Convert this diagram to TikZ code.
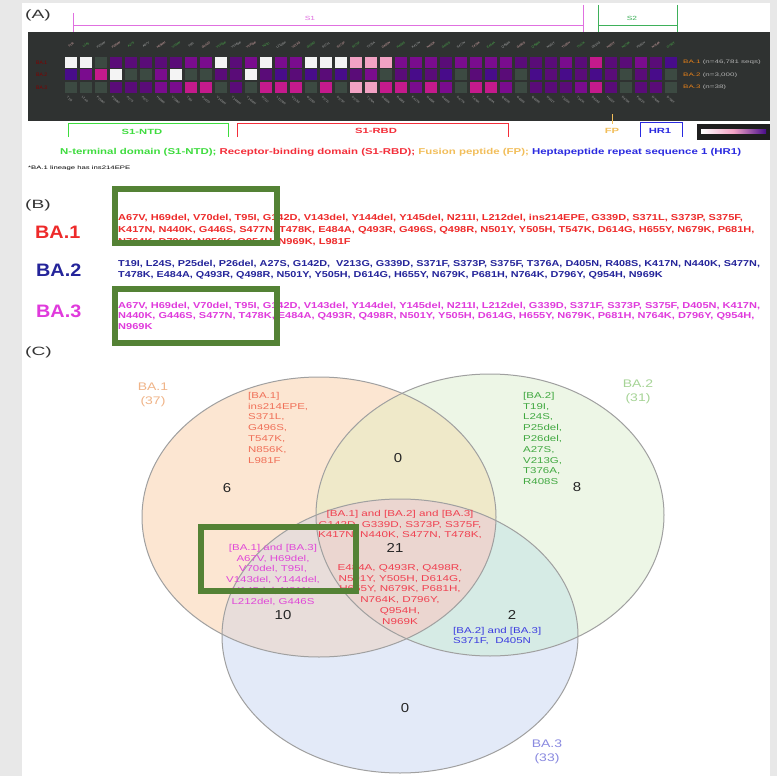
\documentclass[tikz,border=0pt]{standalone}
\usepackage{fontspec}
\usepackage{graphicx}
\setmainfont{Liberation Sans}
\definecolor{hmW}{HTML}{F4F4F4}
\definecolor{hmG}{HTML}{3C4A42}
\definecolor{hmP}{HTML}{5A0C78}
\definecolor{hmQ}{HTML}{7A0C8E}
\definecolor{hmM}{HTML}{C41A8C}
\definecolor{hmK}{HTML}{F2A2C4}
\definecolor{hmB}{HTML}{480C8A}
\definecolor{darkbox}{HTML}{2F3231}
\definecolor{ntd}{HTML}{3EDC3E}
\definecolor{rbd}{HTML}{F42E3A}
\definecolor{fpc}{HTML}{F2BE5A}
\definecolor{hrc}{HTML}{2A2AE0}
\definecolor{sone}{HTML}{E070E0}
\definecolor{stwo}{HTML}{3EB05A}
\definecolor{bared}{HTML}{EE2A2A}
\definecolor{bablue}{HTML}{24249A}
\definecolor{bamag}{HTML}{E03ADC}
\definecolor{annot}{HTML}{548235}
\definecolor{vone}{HTML}{FCE6D2}
\definecolor{vtwo}{HTML}{EDF6E6}
\definecolor{vthree}{HTML}{E3EAF8}
\definecolor{vot}{HTML}{EFE9C9}
\definecolor{voth}{HTML}{E8DDDA}
\definecolor{vtth}{HTML}{D6EBE5}
\definecolor{vall}{HTML}{EBD6D0}
\definecolor{vborder}{HTML}{A0A0A0}
\definecolor{tone}{HTML}{F07058}
\definecolor{ttwo}{HTML}{40A840}
\definecolor{tall}{HTML}{F04050}
\definecolor{tonethree}{HTML}{E048D8}
\definecolor{ttwothree}{HTML}{3C3CE0}
\definecolor{lone}{HTML}{F0B488}
\definecolor{ltwo}{HTML}{A6D496}
\definecolor{lthree}{HTML}{8A8AE0}
\newcommand{\myWideTab}[3]{\scalebox{#1}[1]{\begin{tabular}{@{}#2@{}}#3\end{tabular}}}
\newcommand{\myWide}[2]{\scalebox{#1}[1]{#2}}
\begin{document}
\begin{tikzpicture}[x=1pt,y=-1pt,
  panel/.style={anchor=west, font=\fontsize{12}{13}\selectfont, text=black!80, inner sep=0},
  btext/.style={anchor=west, font=\bfseries\fontsize{8.6}{10}\selectfont, inner sep=0},
  blabel/.style={anchor=west, font=\bfseries\fontsize{18}{20}\selectfont, inner sep=0},
  vtext/.style={font=\fontsize{8.5}{10.8}\selectfont, inner sep=0},
  vcount/.style={font=\fontsize{13}{14}\selectfont, text=black!85, inner sep=0},
  vlabel/.style={font=\fontsize{11}{14}\selectfont, inner sep=0},
  annbox/.style={draw=annot, line width=6.5pt},
  bracket/.style={line width=0.8pt},
  dlabel/.style={font=\bfseries\fontsize{7.5}{8}\selectfont, inner sep=0},
  tinylab/.style={font=\fontsize{3}{3}\selectfont, inner sep=0},
  vring/.style={draw=vborder, line width=1pt}
]
\useasboundingbox (0,0) rectangle (777,776);
\fill[black!9] (0,0) rectangle (777,776);
\fill[white] (22,3) rectangle (770,776);

% ---------- Panel A ----------
\node[panel] (pa) at (25,15) {\myWide{1.6}{(A)}};
\draw[sone, bracket] (73,13) -- (73,32);
\draw[sone, bracket] (73,25) -- (583,25);
\draw[sone, bracket] (583,5) -- (583,32);
\node[font=\fontsize{6}{6}\selectfont, text=sone] (s1) at (310,18) {\myWide{1.4}{S1}};
\draw[stwo, bracket] (598,5) -- (598,32);
\draw[stwo, bracket] (598,25) -- (677,25);
\draw[stwo, bracket] (677,5) -- (677,32);
\node[font=\fontsize{6}{6}\selectfont, text=stwo] (s2) at (632,18) {\myWide{1.4}{S2}};

\fill[darkbox] (28,32) rectangle (770,121);

\foreach \m [count=\i] in {T19I,L24S,P25del,P26del,A27S,A67V,H69del,V70del,T95I,G142D,V143del,Y144del,Y145del,N211I,L212del,V213G,G339D,S371L,S373P,S375F,T376A,D405N,R408S,K417N,N440K,G446S,S477N,T478K,E484A,Q493R,G496S,Q498R,N501Y,Y505H,T547K,D614G,H655Y,N679K,P681H,N764K,D796Y}{
  \pgfmathsetmacro{\cx}{71+15*(\i-1)}
  \pgfmathtruncatemacro{\k}{mod(\i,3)}
  \ifnum\k=0 \def\lc{black!30}\fi
  \ifnum\k=1 \def\lc{pink!80!gray}\fi
  \ifnum\k=2 \def\lc{green!40!gray}\fi
  \node[tinylab, text=\lc, rotate=32] at (\cx,45) {\m};
  \node[tinylab, text=black!35, rotate=-40, anchor=north west] at (\cx-3,96) {\m};
}
\foreach \c [count=\i] in {W,W,G,P,P,P,P,P,Q,Q,W,P,Q,W,Q,Q,W,W,W,K,K,K,Q,Q,Q,P,Q,Q,Q,Q,P,P,P,Q,P,M,P,P,Q,P,B}{
  \fill[fill=hm\c] ({65+15*(\i-1)},57) rectangle +(12,11);
}
\foreach \c [count=\i] in {B,Q,M,W,G,G,Q,W,G,G,P,P,W,P,B,P,B,P,B,P,Q,G,P,B,P,B,G,P,B,P,G,B,P,B,P,B,P,G,P,B,G}{
  \fill[fill=hm\c] ({65+15*(\i-1)},69.5) rectangle +(12,11);
}
\foreach \c [count=\i] in {G,G,G,P,P,P,Q,Q,M,M,G,P,G,M,M,M,G,M,G,K,K,M,M,Q,M,Q,G,M,M,Q,G,P,P,P,Q,M,P,G,P,P,G}{
  \fill[fill=hm\c] ({65+15*(\i-1)},82) rectangle +(12,11);
}
\node[tinylab, font=\fontsize{5}{5}\selectfont, text=red!50!black, anchor=west] (r1) at (36,62.5) {BA.1};
\node[tinylab, font=\fontsize{5}{5}\selectfont, text=red!50!black, anchor=west] (r2) at (36,75) {BA.2};
\node[tinylab, font=\fontsize{5}{5}\selectfont, text=red!50!black, anchor=west] (r3) at (36,87.5) {BA.3};
\node[tinylab, font=\fontsize{5}{5}\selectfont, text=black!30, anchor=west] (l1) at (683,62.5) {\myWide{1.6}{\textcolor{orange!60!brown}{BA.1} (n=46,781 seqs)}};
\node[tinylab, font=\fontsize{5}{5}\selectfont, text=black!30, anchor=west] (l2) at (683,75) {\myWide{1.6}{\textcolor{orange!60!brown}{BA.2} (n=3,000)}};
\node[tinylab, font=\fontsize{5}{5}\selectfont, text=black!30, anchor=west] (l3) at (683,87.5) {\myWide{1.6}{\textcolor{orange!60!brown}{BA.3} (n=38)}};

% domain brackets
\draw[ntd, bracket] (68,137) -- (68,123) -- (228,123) -- (228,137);
\node[dlabel, text=ntd] (lntd) at (142,132) {\myWide{1.5}{S1-NTD}};
\draw[rbd, bracket] (237,137) -- (237,123) -- (508,123) -- (508,137);
\node[dlabel, text=rbd] (lrbd) at (376,131) {\myWide{1.5}{S1-RBD}};
\draw[fpc, bracket] (612,114) -- (612,124);
\node[dlabel, text=fpc] (lfp) at (612,131) {\myWide{1.5}{FP}};
\draw[hrc, bracket] (640,137) -- (640,122) -- (682,122) -- (682,137);
\node[dlabel, text=hrc] (lhr) at (660,131) {\myWide{1.5}{HR1}};
\fill[black!88] (697,124) rectangle (770,140);
\shade[left color=white, right color=hmB, middle color=hmK] (701,129.5) rectangle (766,133);

\node[anchor=west, inner sep=0, font=\bfseries\fontsize{8.5}{9}\selectfont] (leg) at (60,152) {\myWide{1.345}{\textcolor{ntd}{N-terminal domain (S1-NTD); }\textcolor{rbd}{Receptor-binding domain (S1-RBD); }\textcolor{fpc}{Fusion peptide (FP); }\textcolor{hrc}{Heptapeptide repeat sequence 1 (HR1)}}};
\node[anchor=west, inner sep=0, font=\fontsize{5}{6}\selectfont] (foot) at (28,168) {\myWide{1.55}{*BA.1 lineage has ins214EPE}};

% ---------- Panel B ----------
\node[panel] (pb) at (25,205) {\myWide{1.6}{(B)}};
\node[blabel, text=bared] (b1) at (35,232) {\myWide{1.1}{BA.1}};
\node[btext, text=bared] (b1a) at (118,218) {\myWide{1.28}{A67V, H69del, V70del, T95I, G142D, V143del, Y144del, Y145del, N211I, L212del, ins214EPE, G339D, S371L, S373P, S375F,}};
\node[btext, text=bared] (b1b) at (118,230) {\myWide{1.28}{K417N, N440K, G446S, S477N, T478K, E484A, Q493R, G496S, Q498R, N501Y, Y505H, T547K, D614G, H655Y, N679K, P681H,}};
\node[btext, text=bared] (b1c) at (118,242) {\myWide{1.28}{N764K, D796Y, N856K, Q954H, N969K, L981F}};
\node[blabel, text=bablue] (b2) at (36,270) {\myWide{1.1}{BA.2}};
\node[btext, text=bablue] (b2a) at (118,264) {\myWide{1.26}{T19I, L24S, P25del, P26del, A27S, G142D, \ V213G, G339D, S371F, S373P, S375F, T376A, D405N, R408S, K417N, N440K, S477N,}};
\node[btext, text=bablue] (b2b) at (118,275) {\myWide{1.26}{T478K, E484A, Q493R, Q498R, N501Y, Y505H, D614G, H655Y, N679K, P681H, N764K, D796Y, Q954H, N969K}};
\node[blabel, text=bamag] (b3) at (36,311) {\myWide{1.1}{BA.3}};
\node[btext, text=bamag] (b3a) at (118,306) {\myWide{1.28}{A67V, H69del, V70del, T95I, G142D, V143del, Y144del, Y145del, N211I, L212del, G339D, S371F, S373P, S375F, D405N, K417N,}};
\node[btext, text=bamag] (b3b) at (118,316.5) {\myWide{1.28}{N440K, G446S, S477N, T478K, E484A, Q493R, Q498R, N501Y, Y505H, D614G, H655Y, N679K, P681H, N764K, D796Y, Q954H,}};
\node[btext, text=bamag] (b3c) at (118,327) {\myWide{1.28}{N969K}};
\draw[annbox] (115,189) rectangle (277,243);
\draw[annbox] (115,289) rectangle (277,343);

% ---------- Panel C ----------
\node[panel] (pc) at (25,352) {\myWide{1.6}{(C)}};
\def\eone{(319,517) ellipse [x radius=177, y radius=140]}
\def\etwo{(490,515) ellipse [x radius=174, y radius=141]}
\def\ethree{(400,636) ellipse [x radius=178, y radius=137]}
\fill[vone] \eone;
\fill[vtwo] \etwo;
\fill[vthree] \ethree;
\begin{scope}\clip \eone; \fill[vot] \etwo; \fill[voth] \ethree; \end{scope}
\begin{scope}\clip \etwo; \fill[vtth] \ethree; \end{scope}
\begin{scope}\clip \eone; \clip \etwo; \fill[vall] \ethree; \end{scope}
\draw[vring] \eone;
\draw[vring] \etwo;
\draw[vring] \ethree;

\node[vlabel, text=lone] (n1) at (153,395) {\myWideTab{1.27}{c}{BA.1\\(37)}};
\node[vlabel, text=ltwo] (n2) at (638,392) {\myWideTab{1.27}{c}{BA.2\\(31)}};
\node[vlabel, text=lthree] (n3) at (547,752) {\myWideTab{1.27}{c}{BA.3\\(33)}};

\node[vtext, text=tone, anchor=north west] (u1) at (248,390.5) {\myWideTab{1.35}{l}{[BA.1]\\ins214EPE,\\S371L,\\G496S,\\T547K,\\N856K,\\L981F}};
\node[vtext, text=ttwo, anchor=north west] (u2) at (523,390.5) {\myWideTab{1.35}{l}{[BA.2]\\T19I,\\L24S,\\P25del,\\P26del,\\A27S,\\V213G,\\T376A,\\R408S}};
\node[vtext, text=tall, anchor=north] (c1) at (400,508.5) {\myWideTab{1.37}{c}{[BA.1] and [BA.2] and [BA.3]\\G142D, G339D, S373P, S375F,\\K417N, N440K, S477N, T478K,}};
\node[vtext, text=tall, anchor=north] (c2) at (400,562.5) {\myWideTab{1.37}{c}{E484A, Q493R, Q498R,\\N501Y, Y505H, D614G,\\H655Y, N679K, P681H,\\N764K, D796Y,\\Q954H,\\N969K}};
\node[vtext, text=tonethree, anchor=north] (c13) at (273,542.5) {\myWideTab{1.35}{c}{[BA.1] and [BA.3]\\A67V, H69del,\\V70del, T95I,\\V143del, Y144del,\\Y145del, N211I,\\L212del, G446S}};
\node[vtext, text=ttwothree, anchor=north west, font=\fontsize{8.5}{10}\selectfont] (c23) at (453,626.5) {\myWideTab{1.35}{l}{[BA.2] and [BA.3]\\S371F, \ D405N}};

\node[vcount] (k1) at (227,488) {\myWide{1.15}{6}};
\node[vcount] (k12) at (398,458) {\myWide{1.15}{0}};
\node[vcount] (k2) at (577,487) {\myWide{1.15}{8}};
\node[vcount] (kall) at (395,548) {\myWide{1.15}{21}};
\node[vcount] (k13) at (283,615) {\myWide{1.15}{10}};
\node[vcount] (k23) at (512,615) {\myWide{1.15}{2}};
\node[vcount] (k3) at (405,708) {\myWide{1.15}{0}};

\draw[annbox] (201,527) rectangle (356,591);
\end{tikzpicture}
\end{document}
